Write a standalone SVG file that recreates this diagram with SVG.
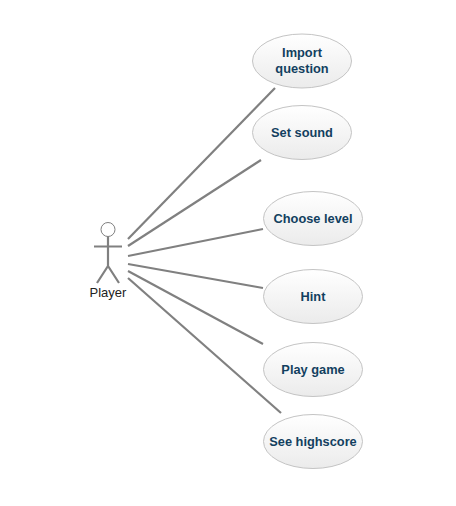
<svg xmlns="http://www.w3.org/2000/svg" width="456" height="506" viewBox="0 0 456 506">
<style>
.uc{stroke:#c4c4c4;stroke-width:1;fill:url(#g)}
.t{font-family:"Liberation Sans",Arial,sans-serif;font-size:12.8px;font-weight:bold;fill:#123f5f;text-anchor:middle}
.c{stroke:#808080;stroke-width:2.2;fill:none}
.a{stroke:#808080;stroke-width:2.2;fill:none}
</style>
<defs><linearGradient id="g" x1="0" y1="0" x2="0" y2="1"><stop offset="0" stop-color="#ffffff"/><stop offset="1" stop-color="#ebebeb"/></linearGradient></defs>
<rect width="456" height="506" fill="#fff"/>
<g id="connectors">
<line class="c" x1="128" y1="239" x2="275" y2="88"/>
<line class="c" x1="128" y1="246" x2="261" y2="160"/>
<line class="c" x1="128" y1="256" x2="263" y2="229"/>
<line class="c" x1="128" y1="264" x2="263" y2="288"/>
<line class="c" x1="128" y1="271" x2="263" y2="344"/>
<line class="c" x1="128" y1="278" x2="281" y2="413"/>
</g>
<g id="player">
<circle cx="108" cy="229.500" r="7" fill="#fff" stroke="#808080" stroke-width="1"/>
<path class="a" d="M108 236.500V266M94 246.500H122M97 283L108 266L119 283"/>
<text x="108" y="297" font-family="'Liberation Sans',Arial,sans-serif" font-size="13" fill="#222" text-anchor="middle">Player</text>
</g>
<g id="import-question"><ellipse class="uc" cx="302" cy="61" rx="49.500" ry="27"/><text class="t" x="302" y="57">Import</text><text class="t" x="302" y="73">question</text></g>
<g id="set-sound"><ellipse class="uc" cx="302" cy="132.500" rx="49.500" ry="27"/><text class="t" x="302" y="137">Set sound</text></g>
<g id="choose-level"><ellipse class="uc" cx="313" cy="218.500" rx="49.500" ry="27"/><text class="t" x="313" y="223">Choose level</text></g>
<g id="hint"><ellipse class="uc" cx="313" cy="296.500" rx="49.500" ry="27"/><text class="t" x="313" y="301">Hint</text></g>
<g id="play-game"><ellipse class="uc" cx="313" cy="369.500" rx="49.500" ry="27"/><text class="t" x="313" y="374">Play game</text></g>
<g id="see-highscore"><ellipse class="uc" cx="313" cy="441.500" rx="49.500" ry="27"/><text class="t" x="313" y="446">See highscore</text></g>
</svg>
